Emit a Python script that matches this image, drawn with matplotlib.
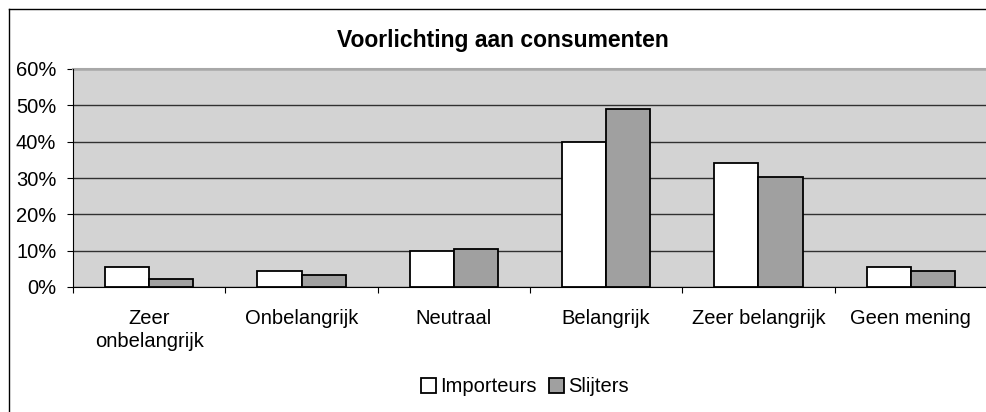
import matplotlib
matplotlib.use("Agg")
import matplotlib.pyplot as plt
import numpy as np
from matplotlib.lines import Line2D
from matplotlib.patches import Patch

plt.rcParams['font.family'] = ['Liberation Sans', 'DejaVu Sans']

categories = ["Zeer\nonbelangrijk", "Onbelangrijk", "Neutraal", "Belangrijk",
              "Zeer belangrijk", "Geen mening"]
importeurs = [5.5, 4.5, 9.9, 39.8, 34.2, 5.5]
slijters = [2.3, 3.4, 10.4, 49.0, 30.3, 4.4]
yticks = [0, 10, 20, 30, 40, 50, 60]

W, H = 987, 412
fig = plt.figure(figsize=(W / 100, H / 100), dpi=100)
ax = fig.add_axes([73 / W, 1 - 287 / H, 914 / W, 218 / H])
ax.set_facecolor("#d3d3d3")

x = np.arange(len(categories))
bw = 0.29
ax.bar(x - bw / 2, importeurs, bw, color="white", edgecolor="black", linewidth=1.3,
       label="Importeurs", zorder=3)
ax.bar(x + bw / 2, slijters, bw, color="#a0a0a0", edgecolor="black", linewidth=1.3,
       label="Slijters", zorder=3)

ax.set_xlim(-0.5, -0.5 + 914 / 153.8)
ax.set_ylim(0, 60)
ax.set_yticks(yticks)
ax.set_yticklabels([f"{v}%" for v in yticks], fontsize=14.5)
ax.yaxis.grid(True, color="#303030", linewidth=1)
ax.set_axisbelow(True)

ax.set_xticks(np.arange(len(categories) + 1) - 0.5)
ax.set_xticklabels([])
ax.set_xticks(x, minor=True)
ax.set_xticklabels(categories, minor=True, fontsize=14.5, linespacing=1.25)
ax.tick_params(axis="x", which="minor", length=0, pad=16)
ax.tick_params(axis="x", which="major", length=4.5, direction="out", color="black")
ax.tick_params(axis="y", length=4.5, direction="out", pad=7.5)

for s in ["top", "right"]:
    ax.spines[s].set_visible(False)
ax.plot([0, 1], [1, 1], transform=ax.transAxes, color="#a8a8a8", lw=1.5, clip_on=False)
ax.spines["left"].set_color("black")
ax.spines["bottom"].set_color("black")

fig.text(503 / W, 1 - 40 / H, "Voorlichting aan consumenten", ha="center", va="center",
         fontsize=16.5, fontweight="bold")

# chart frame
fig.add_artist(Line2D([9 / W, 9 / W], [0, 1 - 9 / H], color="black", lw=1,
                      transform=fig.transFigure))
fig.add_artist(Line2D([9 / W, 1], [1 - 9 / H, 1 - 9 / H], color="black", lw=1,
                      transform=fig.transFigure))

handles = [Patch(facecolor="white", edgecolor="black", linewidth=1.3),
           Patch(facecolor="#a0a0a0", edgecolor="black", linewidth=1.3)]
fig.legend(handles, ["Importeurs", "Slijters"], loc="center",
           bbox_to_anchor=(525 / W, 1 - 387 / H), ncol=2, frameon=False, fontsize=14.5,
           handlelength=0.75, handleheight=0.75, handletextpad=0.2, columnspacing=0.6)

fig.savefig("out.png", dpi=100)
